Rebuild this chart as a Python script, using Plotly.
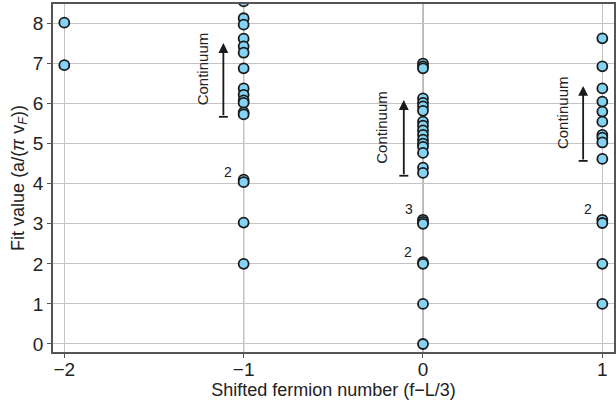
import plotly.graph_objects as go

# Fit values per shifted fermion number
x_m2 = [8.02, 6.96]
x_m1 = [8.55, 8.13, 7.97, 7.62, 7.43, 7.27, 6.88, 6.38, 6.22, 6.08, 6.02, 5.78, 5.73,
        4.10, 4.04, 3.03, 2.00]
x_0 = [7.00, 6.93, 6.88, 6.13, 6.02, 5.93, 5.82, 5.55, 5.45, 5.33, 5.22, 5.10, 5.00,
       4.92, 4.77, 4.40, 4.27, 3.10, 3.05, 3.00, 2.04, 2.00, 1.00, 0.00]
x_1 = [7.63, 6.93, 6.38, 6.05, 5.80, 5.55, 5.22, 5.15, 5.03, 4.62, 3.10, 3.02, 2.00, 1.00]

groups = [(-2, x_m2), (-1, x_m1), (0, x_0), (1, x_1)]
xs, ys = [], []
for f, vals in groups:
    xs += [f] * len(vals)
    ys += vals

x_ticks = [-2, -1, 0, 1]
x_tick_text = ["\u22122", "\u22121", "0", "1"]
y_ticks = [0, 1, 2, 3, 4, 5, 6, 7, 8]

# degeneracy labels: (x, y, text)
degeneracy = [(-1.085, 4.30, "2"), (-0.08, 3.37, "3"), (-0.085, 2.30, "2"), (0.92, 3.37, "2")]
# continuum arrows: (x_arrow, y_start, y_end, x_text, y_text)
continuum = [(-1.113, 5.67, 7.51, -1.229, 6.87),
             (-0.107, 4.20, 6.09, -0.229, 5.42),
             (0.893, 4.57, 6.44, 0.782, 5.77)]

FONT = "Liberation Sans, Arial, Helvetica, sans-serif"

fig = go.Figure()
fig.add_trace(go.Scatter(
    x=xs, y=ys, mode="markers", cliponaxis=True,
    marker=dict(size=10, color="#84d3f3", line=dict(color="#1a1a1a", width=1.8)),
    showlegend=False,
))

shapes = []
for xv in [-1, 0]:
    shapes.append(dict(type="line", xref="x", yref="paper", x0=xv, x1=xv, y0=0, y1=1,
                       line=dict(color="#8a8a8a", width=1.2), layer="below"))

annotations = []
for (xa, y0, y1, xt, yt) in continuum:
    annotations.append(dict(x=xa, y=y1, ax=xa, ay=y0, xref="x", yref="y", axref="x", ayref="y",
                            showarrow=True, arrowhead=2, arrowsize=1.1, arrowwidth=1.8,
                            arrowcolor="#1a1a1a", text=""))
    shapes.append(dict(type="line", xref="x", yref="y", x0=xa - 0.025, x1=xa + 0.025, y0=y0, y1=y0,
                       line=dict(color="#1a1a1a", width=1.8)))
    annotations.append(dict(x=xt, y=yt, xref="x", yref="y", text="Continuum", showarrow=False,
                            textangle=-90, font=dict(family=FONT, size=15, color="#222")))
for (xd, yd, t) in degeneracy:
    annotations.append(dict(x=xd, y=yd, xref="x", yref="y", text=t, showarrow=False,
                            font=dict(family=FONT, size=14, color="#222")))

fig.update_layout(
    width=616, height=408,
    margin=dict(l=53, r=0, t=4, b=56),
    paper_bgcolor="white", plot_bgcolor="white",
    font=dict(family=FONT, size=19, color="#222"),
    shapes=shapes, annotations=annotations,
    xaxis=dict(range=[-2.063, 1.065], tickvals=x_ticks, ticktext=x_tick_text,
               showgrid=True, gridcolor="#c4c4c4", gridwidth=1.2,
               showline=True, linecolor="#555", linewidth=1.5, mirror=True,
               ticks="outside", ticklen=4, tickcolor="#555", zeroline=False,
               tickfont=dict(size=19), ticklabelstandoff=-5,
               title=dict(text="Shifted fermion number (f\u2212L/3)", standoff=0,
                          font=dict(size=18))),
    yaxis=dict(range=[-0.2, 8.486], tickvals=y_ticks,
               showgrid=True, gridcolor="#c4c4c4", gridwidth=1.2,
               showline=True, linecolor="#555", linewidth=1.5, mirror=True,
               ticks="outside", ticklen=4, tickcolor="#555", zeroline=False,
               tickfont=dict(size=19),
               title=dict(text="Fit value (a/(<i>\u03c0</i> v<sub><i>F</i></sub>))", standoff=4,
                          font=dict(size=18))),
)

fig.write_html("out.html")
